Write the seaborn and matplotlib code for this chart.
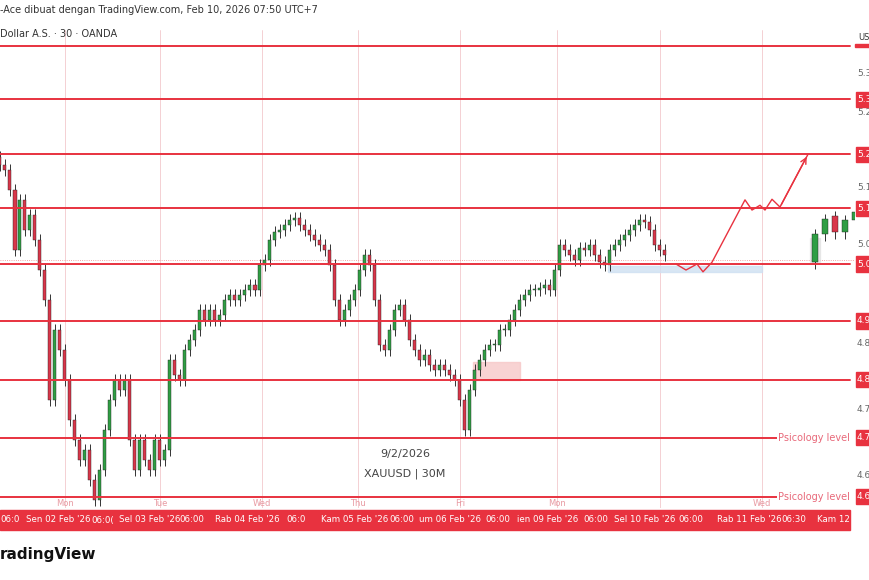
import matplotlib
matplotlib.use("Agg")
import matplotlib.pyplot as plt
import seaborn as sns
import numpy as np

sns.set_style("white")
plt.rcParams['font.family'] = ['DejaVu Sans']

# closes (price x1000), 30-minute candles
closes = [5177,5169,5135,5035,5119,5069,5094,5052,5002,4952,4785,4902,4869,4819,4752,4719,4685,4702,4652,4619,
          4669,4735,4785,4819,4802,4819,4719,4669,4719,4685,4669,4719,4685,4702,4852,4827,4819,4869,4885,4902,
          4935,4919,4935,4919,4927,4952,4960,4952,4960,4969,4977,4969,5010,5019,5052,5065,5069,5077,5085,5089,
          5077,5069,5060,5052,5044,5035,5010,4952,4919,4935,4952,4969,5002,5027,5010,4952,4877,4869,4902,4935,
          4944,4919,4885,4869,4852,4860,4844,4835,4844,4835,4827,4819,4785,4735,4802,4835,4852,4869,4877,4877,
          4902,4902,4919,4935,4952,4960,4969,4969,4972,4977,4969,5002,5044,5035,5027,5019,5039,5035,5044,5027,
          5015,5010,5035,5044,5052,5060,5069,5077,5085,5082,5069,5044,5035,5027]
first_open = 5190
wick = 10
# small inset candles on the right
inset_x = [163, 165, 167, 169, 171]
inset_open = [5015, 5062, 5092, 5065, 5085]
inset_close = [5062, 5087, 5065, 5085, 5098]
# key levels
levels = [5375, 5287, 5195, 5105, 5012, 4917, 4819, 4722, 4624]
level_labels = ["", "5.3", "5.2", "5.1", "5.0", "4.9", "4.8", "4.7", "4.6"]
axis_ticks = [5330, 5265, 5140, 5045, 4880, 4770, 4660]
axis_tick_labels = ["5.3", "5.2", "5.1", "5.0", "4.8", "4.7", "4.6"]
# projected path
proj_x = [135.2, 137.2, 139.4, 140.6, 142.4, 149, 150.4, 152, 153, 154.4, 156, 161.6]
proj_y = [5012, 5002, 5012, 4999, 5015, 5119, 5102, 5110, 5102, 5120, 5107, 5195]
day_x = [13, 32, 52.4, 71.6, 92, 111.4, 132, 152.4]
day_names = ["Mon", "Tue", "Wed", "Thu", "Fri", "Mon", "", "Wed"]
date_labels = ["06:0", "Sen 02 Feb '26", "06:0(", "Sel 03 Feb '26", "06:00", "Rab 04 Feb '26", "06:0",
               "Kam 05 Feb '26", "06:00", "um 06 Feb '26", "06:00", "ien 09 Feb '26", "06:00", "Sel 10 Feb '26",
               "06:00", "Rab 11 Feb '26", "06:30", "Kam 12"]
date_px = [0, 26, 91, 119, 179, 215, 286, 321, 389, 419, 485, 517, 583, 614, 678, 717, 781, 817]

RED = "#e8323f"
NARROW = ['Liberation Sans Narrow', 'DejaVu Sans']
fig = plt.figure(figsize=(8.7, 5.8), dpi=100)
ax = fig.add_axes([0, 0.124, 855/870, 0.824])
n = len(closes)
opens = [first_open] + closes[:-1]
xs = np.arange(n)
for x, o, c in zip(xs, opens, closes):
    col = "#2f9e44" if c >= o else "#d9364a"
    ax.vlines(x, min(o, c) - wick, max(o, c) + wick, color="#333333", lw=0.7, zorder=3)
    ax.bar(x, abs(c - o) if abs(c - o) > 1 else 1.5, bottom=min(o, c), width=0.6, color=col,
           edgecolor="#222222", lw=0.3, zorder=4)
for x, o, c in zip(inset_x, inset_open, inset_close):
    col = "#2f9e44" if c >= o else "#d9364a"
    ax.vlines(x, min(o, c) - 12, max(o, c) + 8, color="#333333", lw=0.7, zorder=3)
    ax.bar(x, abs(c - o), bottom=min(o, c), width=1.2, color=col, edgecolor="#222", lw=0.3, zorder=4)
ax.add_patch(plt.Rectangle((162, 5015), 2, 40, color="#dddddd", alpha=0.6, zorder=2))

for lv in levels:
    ax.axhline(lv, xmin=0, xmax=850/855, color=RED, lw=1.4, zorder=5)
for dx in day_x:
    ax.axvline(dx, color="#f3c9cc", lw=0.6, zorder=1)
ax.axhline(5018, color="#e88", lw=0.6, ls=":", zorder=1)

ax.add_patch(plt.Rectangle((121.6, 4999), 30.8, 10, color="#cfe0f2", alpha=0.8, zorder=2))
ax.add_patch(plt.Rectangle((94.6, 4819), 9.4, 30, color="#f7c8c8", alpha=0.8, zorder=2))
ax.plot(proj_x, proj_y, color=RED, lw=1.0, zorder=6)
ax.annotate("", xy=(proj_x[-1], proj_y[-1]), xytext=(proj_x[-2], proj_y[-2]),
            arrowprops=dict(arrowstyle="->", color=RED, lw=1.0), zorder=6)

ax.text(155.6, 4722, "Psicology level", color="#e8697a", fontsize=7, va="center", zorder=7,
        bbox=dict(fc="white", ec="none", pad=0.5))
ax.text(155.6, 4624, "Psicology level", color="#e8697a", fontsize=7, va="center", zorder=7,
        bbox=dict(fc="white", ec="none", pad=0.5))
for dx, nm in zip(day_x, day_names):
    ax.text(dx, 4612, nm, color="#e89aa2", fontsize=6, ha="center", va="center")
ax.text(81, 4690, "9/2/2026", fontsize=8, color="#444", ha="center")
ax.text(81, 4657, "XAUUSD | 30M", fontsize=8, color="#444", ha="center")

ax.set_xlim(0, 171)
ax.set_ylim(4605, 5402)
ax.set_xticks([]); ax.set_yticks([])
for s in ax.spines.values():
    s.set_visible(False)

# right price axis labels
for lv, lab in zip(levels, level_labels):
    yf = 0.124 + 0.824 * (lv - 4605) / (5402 - 4605)
    if lab:
        fig.patches.append(plt.Rectangle((856/870, yf - 0.013), 0.02, 0.026, transform=fig.transFigure,
                                         color=RED, zorder=10))
        fig.text(857/870, yf, lab, color="white", fontsize=6.5, va="center", zorder=11, family=NARROW)
for t, lab in zip(axis_ticks, axis_tick_labels):
    yf = 0.124 + 0.824 * (t - 4605) / (5402 - 4605)
    fig.text(857/870, yf, lab, color="#666", fontsize=6.5, va="center", family=NARROW)
fig.text(858/870, 1 - 37/580, "US", fontsize=6, color="#333", va="center", family=NARROW)
fig.patches.append(plt.Rectangle((855/870, 1 - 47/580), 0.02, 0.006, transform=fig.transFigure, color=RED))

# bottom date strip
fig.patches.append(plt.Rectangle((0, 1 - 530/580), 850/870, 20/580, transform=fig.transFigure, color=RED))
for px, lab in zip(date_px, date_labels):
    fig.text(px/870, 1 - 520/580, lab, color="white", fontsize=6.2, va="center", family=NARROW)

fig.text(0, 1 - 10/580, "-Ace dibuat dengan TradingView.com, Feb 10, 2026 07:50 UTC+7", fontsize=7, color="#333", va="center")
fig.text(0, 1 - 34/580, "Dollar A.S. · 30 · OANDA", fontsize=7, color="#333", va="center")
fig.text(0, 1 - 555/580, "radingView", fontsize=11, fontweight="bold", color="#111", va="center")

fig.savefig("out.png", dpi=100)
